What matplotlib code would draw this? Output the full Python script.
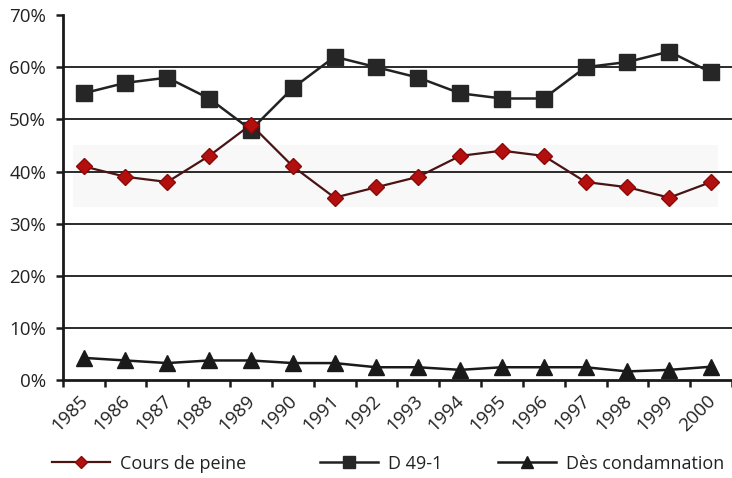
import matplotlib
matplotlib.use("Agg")
import matplotlib.pyplot as plt
import matplotlib.transforms as mtransforms
from matplotlib.lines import Line2D
from matplotlib.patches import Rectangle
import numpy as np

plt.rcParams['font.family'] = ['Open Sans', 'DejaVu Sans']

years = ["1985", "1986", "1987", "1988", "1989", "1990", "1991", "1992",
         "1993", "1994", "1995", "1996", "1997", "1998", "1999", "2000"]
cours_de_peine = [41, 39, 38, 43, 49, 41, 35, 37, 39, 43, 44, 43, 38, 37, 35, 38]
d49_1 = [55, 57, 58, 54, 48, 56, 62, 60, 58, 55, 54, 54, 60, 61, 63, 59]
des_condamnation = [4.3, 3.8, 3.3, 3.8, 3.8, 3.3, 3.3, 2.5, 2.5, 2.0, 2.5, 2.5, 2.5, 1.7, 2.0, 2.6]
y_ticks = [0, 10, 20, 30, 40, 50, 60, 70]
y_labels = ["0%", "10%", "20%", "30%", "40%", "50%", "60%", "70%"]

fig = plt.figure(figsize=(7.32, 4.78), dpi=100)
ax = fig.add_axes([0.0857, 0.2044, 0.9143, 0.7642])

x = np.arange(len(years)) + 0.5
ax.set_xlim(0, len(years))
ax.set_ylim(0, 70)

# faint scan band behind red series
ax.add_patch(Rectangle((0.25, 33.2), 15.41, 11.9, facecolor='#f8f8f8',
                       edgecolor='none', zorder=0))

for v in y_ticks[1:-1]:
    ax.axhline(v, color='#1a1a1a', lw=1.3, zorder=1)

text_col = '#222222'
ax.plot(x, des_condamnation, color='#1a1a1a', lw=1.8, marker='^',
        markersize=11, markerfacecolor='#1a1a1a', markeredgecolor='#1a1a1a', zorder=3)
ax.plot(x, d49_1, color='#222222', lw=1.8, marker='s', markersize=12,
        markerfacecolor='#262626', markeredgecolor='#262626', zorder=3)
ax.plot(x, cours_de_peine, color='#4a1414', lw=1.6, marker='D', markersize=8.5,
        markerfacecolor='#b40f0f', markeredgecolor='#8a0a0a', zorder=4)

for s in ['top', 'right']:
    ax.spines[s].set_visible(False)
for s in ['left', 'bottom']:
    ax.spines[s].set_linewidth(2.0)
    ax.spines[s].set_color('#1a1a1a')

fs = 13.5
ax.set_yticks(y_ticks)
ax.set_yticklabels(y_labels, fontsize=fs, color=text_col)
ax.tick_params(axis='y', length=5, width=1.8, pad=7, color='#1a1a1a')

ax.set_xticks(x)
ax.set_xticklabels(years, rotation=45, ha='right', rotation_mode='anchor',
                   fontsize=fs, color=text_col)
ax.tick_params(axis='x', which='major', length=0, pad=8)
offset = mtransforms.ScaledTranslation(-5 / 100, 0, fig.dpi_scale_trans)
for lbl in ax.get_xticklabels():
    lbl.set_transform(lbl.get_transform() + offset)
ax.set_xticks(np.arange(0, len(years) + 1), minor=True)
ax.tick_params(axis='x', which='minor', length=5, width=1.8, color='#1a1a1a')

handles = [
    (Line2D([], [], color='#4a1414', lw=1.6, marker='D', markersize=6,
            markerfacecolor='#b40f0f', markeredgecolor='#8a0a0a'), "Cours de peine", 52),
    (Line2D([], [], color='#222222', lw=1.8, marker='s', markersize=9,
            markerfacecolor='#262626', markeredgecolor='#262626'), "D 49-1", 320),
    (Line2D([], [], color='#1a1a1a', lw=1.8, marker='^', markersize=8,
            markerfacecolor='#1a1a1a', markeredgecolor='#1a1a1a'), "Dès condamnation", 498),
]
for h, lab, px in handles:
    leg = fig.legend([h], [lab], loc='center left', bbox_to_anchor=(px / 732, 0.03),
                     frameon=False, fontsize=13, handlelength=3.2, handletextpad=0.55,
                     borderpad=0, borderaxespad=0)
    for t in leg.get_texts():
        t.set_color(text_col)

fig.savefig("out.png", dpi=100)
